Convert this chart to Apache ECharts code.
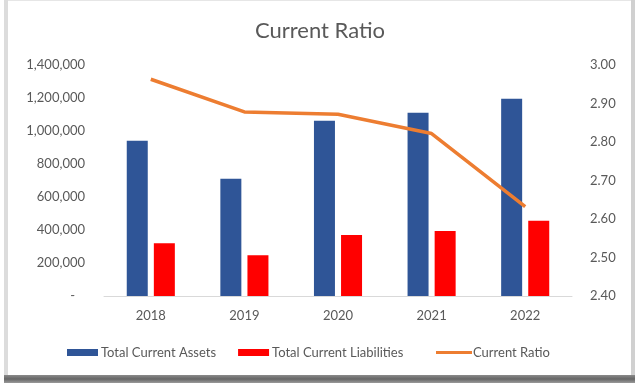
<!DOCTYPE html>
<html><head><meta charset="utf-8">
<script src="https://cdn.jsdelivr.net/npm/echarts@6/dist/echarts.min.js"></script>
<style>html,body{margin:0;padding:0;background:#fff}#c{width:640px;height:390px}</style>
</head><body><div id="c"></div>
<script>
var categories = ['2018','2019','2020','2021','2022'];
var totalCurrentAssets = [941000, 711000, 1062000, 1111000, 1195000];
var totalCurrentLiabilities = [319000, 247000, 370000, 394000, 456000];
var currentRatio = [2.963, 2.878, 2.872, 2.822, 2.632];
var leftTicks = {min: 0, max: 1400000, interval: 200000};
var rightTicks = {min: 2.4, max: 3.0, interval: 0.1};

var FONT = 'Lato';
var TXT = '#595959';
var chart = echarts.init(document.getElementById('c'), null, {renderer: 'canvas'});
chart.setOption({
  backgroundColor: '#fff',
  animation: false,
  graphic: [
    {type: 'rect', shape: {x: 8, y: 0, width: 626, height: 1}, style: {fill: '#e6e6e6'}, silent: true},
    {type: 'rect', shape: {x: 4, y: 0, width: 4, height: 383}, style: {fill: '#dcdcdc'}, silent: true},
    {type: 'rect', shape: {x: 631, y: 0, width: 4, height: 383}, style: {fill: '#d0d0d0'}, silent: true},
    {type: 'rect', shape: {x: 4, y: 375, width: 631, height: 8},
      style: {fill: new echarts.graphic.LinearGradient(0, 0, 0, 1, [
        {offset: 0, color: '#8a8a8a'}, {offset: 0.5, color: '#666'}, {offset: 1, color: '#9a9a9a'}])}, silent: true}
  ],
  title: {
    text: 'Current Ratio', left: 'center', top: 15,
    textStyle: {fontFamily: FONT, fontSize: 22, fontWeight: 'normal', color: TXT}
  },
  legend: [
    {
      left: 62, top: 341, itemWidth: 31, itemHeight: 7, itemGap: 22,
      textStyle: {fontFamily: FONT, fontSize: 13, color: TXT, padding: [0, 0, 0, -2]},
      data: [
        {name: 'Total Current Assets', icon: 'rect'},
        {name: 'Total Current Liabilities', icon: 'rect'}
      ]
    },
    {
      left: 431, top: 341, itemWidth: 36, itemHeight: 3,
      textStyle: {fontFamily: FONT, fontSize: 13, color: TXT, padding: [0, 0, 0, -4]},
      data: [{name: 'Current Ratio', icon: 'rect', itemStyle: {color: '#ED7D31'}}]
    }
  ],
  grid: {left: 104, right: 68, top: 65, bottom: 94},
  xAxis: {
    type: 'category', data: categories,
    axisLine: {lineStyle: {color: '#d9d9d9', width: 1}},
    axisTick: {show: false},
    axisLabel: {fontFamily: FONT, fontSize: 13, color: TXT, margin: 13}
  },
  yAxis: [
    {
      type: 'value', min: leftTicks.min, max: leftTicks.max, interval: leftTicks.interval,
      splitLine: {show: false}, axisLine: {show: false}, axisTick: {show: false},
      axisLabel: {fontFamily: FONT, fontSize: 13, color: TXT, margin: 19,
        formatter: function (v) { return v === 0 ? '-   ' : v.toLocaleString('en-US'); }}
    },
    {
      type: 'value', min: rightTicks.min, max: rightTicks.max, interval: rightTicks.interval,
      splitLine: {show: false}, axisLine: {show: false}, axisTick: {show: false},
      axisLabel: {fontFamily: FONT, fontSize: 13, color: TXT, margin: 18,
        formatter: function (v) { return v.toFixed(2); }}
    }
  ],
  series: [
    {name: 'Total Current Assets', type: 'bar', data: totalCurrentAssets, barWidth: 21, barGap: '29%',
      itemStyle: {color: '#2F5597'}},
    {name: 'Total Current Liabilities', type: 'bar', data: totalCurrentLiabilities, barWidth: 21,
      itemStyle: {color: '#FF0000'}},
    {name: 'Current Ratio', type: 'line', yAxisIndex: 1, data: currentRatio,
      symbol: 'none', lineStyle: {color: '#ED7D31', width: 3.5}, itemStyle: {color: '#ED7D31'}}
  ]
});
</script></body></html>
